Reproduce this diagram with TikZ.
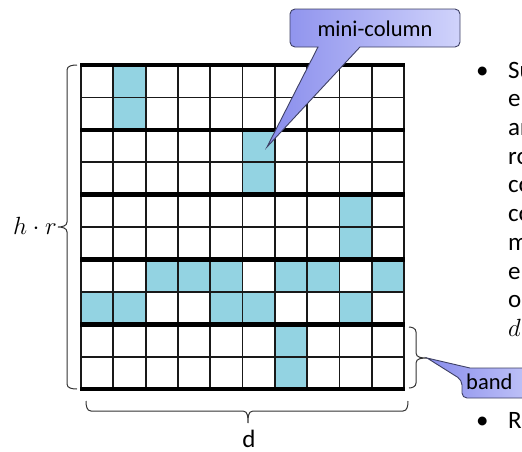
\documentclass[tikz,border=0pt]{standalone}
\usepackage{fontspec}
\setmainfont{Carlito}
\definecolor{cellc}{RGB}{147,211,226}
\definecolor{calL}{RGB}{136,140,236}
\definecolor{calR}{RGB}{208,211,251}
\definecolor{calB}{RGB}{62,64,100}
\definecolor{gridc}{RGB}{25,25,25}
\begin{document}
\begin{tikzpicture}[x=1pt,y=-1pt,
  thinline/.style={draw=gridc,line width=1.8pt},
  bandline/.style={draw=black,line width=4.6pt},
  brc/.style={draw=black!80,line width=1pt},
  callout/.style={draw=calB,line width=0.9pt,left color=calL,right color=calR},
  body/.style={font=\fontsize{25}{30}\selectfont,inner sep=0pt,anchor=base west},
  labl/.style={font=\fontsize{22.5}{27}\selectfont,inner sep=0pt}]
\useasboundingbox (0,0) rectangle (522,451);
\clip (0,0) rectangle (522,451);
% cells
\foreach \r/\c in {0/1,1/1,2/5,3/5,4/8,5/8,6/2,6/3,6/4,6/6,6/7,6/9,7/0,7/1,7/4,7/5,7/8,8/6,9/6}
  \fill[cellc] ({81+\c*32.3},{65+\r*32.4}) rectangle ++(32.3,32.4);
% grid
\foreach \i in {0,...,10}
  \draw[thinline] ({81+\i*32.3},65) -- ({81+\i*32.3},389);
\foreach \j in {1,3,5,7,9}
  \draw[thinline] (81,{65+\j*32.4}) -- (404,{65+\j*32.4});
\foreach \j in {0,2,4,6,8,10}
  \draw[bandline] (80,{65+\j*32.4}) -- (405,{65+\j*32.4});
% left brace
\draw[brc] (77,65) to[out=180,in=90] (67,70) -- (67,222) to[out=-90,in=0] (58,227)
  to[out=0,in=90] (67,232) -- (67,384) to[out=-90,in=180] (77,389);
\node[font=\fontsize{26}{30}\selectfont,inner sep=0pt,anchor=east] (hr) at (57,226) {$h\cdot r$};
% bottom brace
\draw[brc] (86,401) to[out=-90,in=180] (91,411) -- (243,411) to[out=0,in=90] (248,423)
  to[out=90,in=180] (253,411) -- (403,411) to[out=0,in=-90] (408,401);
\node[font=\fontsize{25}{30}\selectfont,inner sep=0pt] (dlab) at (249,438.5) {d};
% right brace
\draw[brc] (409,327) to[out=0,in=90] (416,332) -- (416,353) to[out=-90,in=180] (427,358)
  coordinate (bandtip) to[out=180,in=90] (416,363) -- (416,383) to[out=-90,in=0] (409,388);
% mini-column callout
\coordinate (mctip) at (267,147);
\path[callout] (318,47) -- (mctip) -- (360,47) [rounded corners=5pt] -- (460,47) -- (460,9)
  -- (290,9) -- (290,47) [sharp corners] -- cycle;
\node[labl] (mc) at (375,29) {mini-column};
% band callout
\path[callout] (bandtip) -- (470,368) [rounded corners=5pt] -- (560,368) -- (560,398)
  -- (462,398) -- (462,380) [sharp corners] -- cycle;
\node[labl,anchor=west] (band) at (466,382) {band};
% text column
\node[body] (b1) at (476,78) {•};
\node[body] (t1) at (508,78) {Su};
\node[body] (t2) at (508,106.7) {e};
\node[body] (t3) at (508,135.4) {ar};
\node[body] (t4) at (508,164) {ro};
\node[body] (t5) at (508,192.8) {co};
\node[body] (t6) at (508,221.5) {co};
\node[body] (t7) at (508,250) {m};
\node[body] (t8) at (508,279) {e};
\node[body] (t9) at (508,307.6) {o};
\node[body] (t10) at (508,336) {$d$};
\node[body] (b2) at (476,428) {•};
\node[body] (r1) at (508,428) {R};
\end{tikzpicture}
\end{document}
